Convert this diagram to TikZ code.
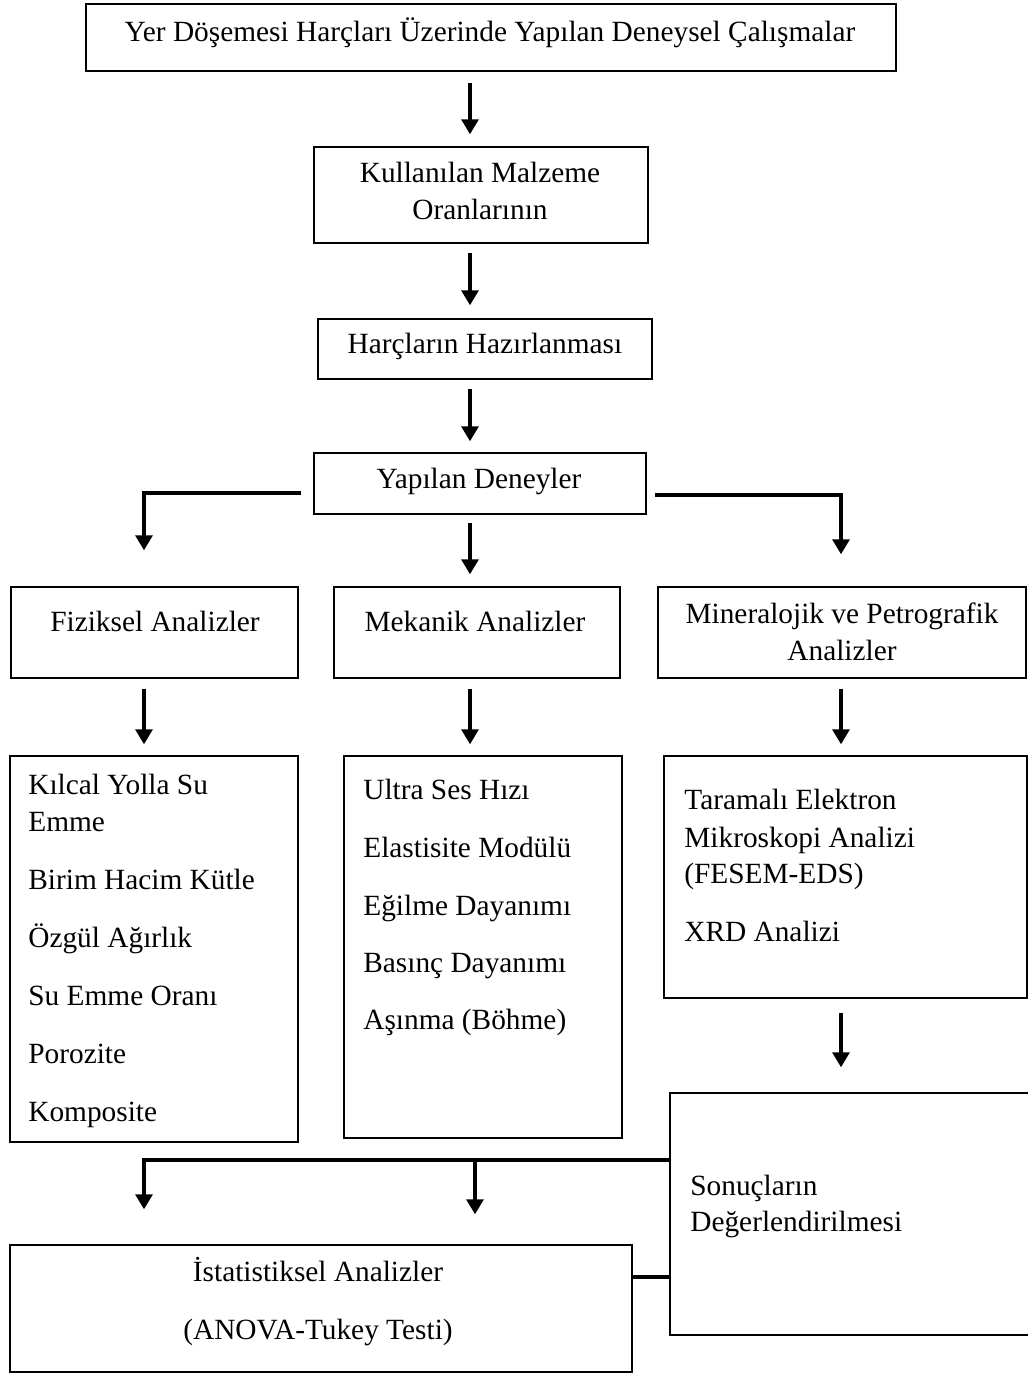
\documentclass[tikz,border=0pt]{standalone}
\usepackage{fontspec}
\setmainfont{Liberation Serif}
\usetikzlibrary{arrows.meta}

\begin{document}
\begin{tikzpicture}[x=0.02cm, y=-0.02cm, font=\fontsize{16.7}{21}\selectfont,
	box/.style={shape=rectangle, draw, line width=0.85pt, inner sep=0pt},
	arr/.style={line width=1.8pt, -{Triangle[width=0.34cm, length=0.3cm]}},
	lnk/.style={line width=1.8pt}]
	\useasboundingbox (0,0) rectangle (1028,1373);
	% Boxes:
	\node[box, minimum width=16.2cm, minimum height=1.34cm] (top) at (491, 37.5){};
	\node[box, minimum width=6.68cm, minimum height=1.92cm] (mat) at (481, 195){};
	\node[box, minimum width=6.68cm, minimum height=1.2cm] (har) at (485, 349){};
	\node[box, minimum width=6.64cm, minimum height=1.22cm] (den) at (480, 483.5){};
	\node[box, minimum width=5.74cm, minimum height=1.82cm] (fiz) at (154.5, 632.5){};
	\node[box, minimum width=5.72cm, minimum height=1.82cm] (mek) at (477, 632.5){};
	\node[box, minimum width=7.36cm, minimum height=1.82cm] (min) at (842, 632.5){};
	\node[box, minimum width=5.76cm, minimum height=7.72cm] (fizl) at (154, 949){};
	\node[box, minimum width=5.56cm, minimum height=7.64cm] (mekl) at (483, 947){};
	\node[box, minimum width=7.26cm, minimum height=4.84cm] (minl) at (845.5, 877){};
	\node[box, minimum width=7.4cm, minimum height=4.84cm] (son) at (855, 1214){};
	\node[box, minimum width=12.44cm, minimum height=2.54cm] (ist) at (321, 1308.5){};
	% Texts:
	\node[anchor=center] (topt) at (490, 33){Yer Döşemesi Harçları Üzerinde Yapılan Deneysel Çalışmalar};
	\node[anchor=center, align=center] (matt) at (480, 191){Kullanılan Malzeme\\Oranlarının};
	\node[anchor=center] (hart) at (485, 346){Harçların Hazırlanması};
	\node[anchor=center] (dent) at (479, 481){Yapılan Deneyler};
	\node[anchor=center] (fizt) at (155, 621){Fiziksel Analizler};
	\node[anchor=center] (mekt) at (475, 621){Mekanik Analizler};
	\node[anchor=center, align=center] (mint) at (842, 632){Mineralojik ve Petrografik\\Analizler};
	\foreach \t/\y in {{Kılcal Yolla Su}/785, Emme/822, {Birim Hacim Kütle}/880, {Özgül Ağırlık}/938, {Su Emme Oranı}/996, Porozite/1054, Komposite/1112}
		\node[anchor=base west, inner sep=0pt] (fizl-\y) at (28, \y+9){\t};
	\foreach \t/\y in {{Ultra Ses Hızı}/790, {Elastisite Modülü}/848, {Eğilme Dayanımı}/906, {Basınç Dayanımı}/963, {Aşınma (Böhme)}/1020}
		\node[anchor=base west, inner sep=0pt] (mekl-\y) at (363, \y+9){\t};
	\foreach \t/\y in {{Taramalı Elektron}/800, {Mikroskopi Analizi}/838, {(FESEM-EDS)}/874, {XRD Analizi}/932}
		\node[anchor=base west, inner sep=0pt] (minl-\y) at (684, \y+9){\t};
	\foreach \t/\y in {Sonuçların/1186, Değerlendirilmesi/1222}
		\node[anchor=base west, inner sep=0pt] (son-\y) at (690, \y+9){\t};
	\foreach \t/\y in {İstatistiksel Analizler/1272, (ANOVA-Tukey Testi)/1330}
		\node[anchor=base, inner sep=0pt] (ist-\y) at (318, \y+9){\t};
	% Columns for the arrows:
	\coordinate (colm) at (470, 0);
	\coordinate (coll) at (144, 0);
	\coordinate (colr) at (841, 0);
	\coordinate (colb) at (475, 0);
	% Arrows and wires:
	\draw[arr, shorten <=0.22cm, shorten >=0.24cm] (top.south -| colm) -- (mat.north -| colm);
	\draw[arr, shorten <=0.18cm, shorten >=0.26cm] (mat.south -| colm) -- (har.north -| colm);
	\draw[arr, shorten <=0.18cm, shorten >=0.22cm] (har.south -| colm) -- (den.north -| colm);
	\draw[arr, shorten <=0.16cm, shorten >=0.24cm] (den.south -| colm) -- (mek.north -| colm);
	\draw[arr, shorten <=0.24cm, shorten >=0.72cm] ([yshift=-0.19cm]den.west) -| (fiz.north -| coll);
	\draw[arr, shorten <=0.16cm, shorten >=0.64cm] ([yshift=-0.23cm]den.east) -| (min.north -| colr);
	\draw[arr, shorten <=0.2cm, shorten >=0.22cm] (fiz.south -| coll) -- (fizl.north -| coll);
	\draw[arr, shorten <=0.2cm, shorten >=0.22cm] (mek.south -| colm) -- (mekl.north -| colm);
	\draw[arr, shorten <=0.2cm, shorten >=0.22cm] (min.south -| colr) -- (minl.north -| colr);
	\draw[arr, shorten <=0.28cm, shorten >=0.5cm] (minl.south -| colr) -- (son.north -| colr);
	\coordinate (junc) at ([yshift=1.08cm]son.west);
	\draw[arr, shorten >=0.7cm] (junc) -| (ist.north -| coll);
	\draw[arr, shorten >=0.6cm] (junc -| colb) -- (ist.north -| colb);
	\coordinate (sj) at ([yshift=0.63cm]ist.east);
	\draw[lnk] (sj) -- (sj -| son.west);
\end{tikzpicture}
\end{document}
